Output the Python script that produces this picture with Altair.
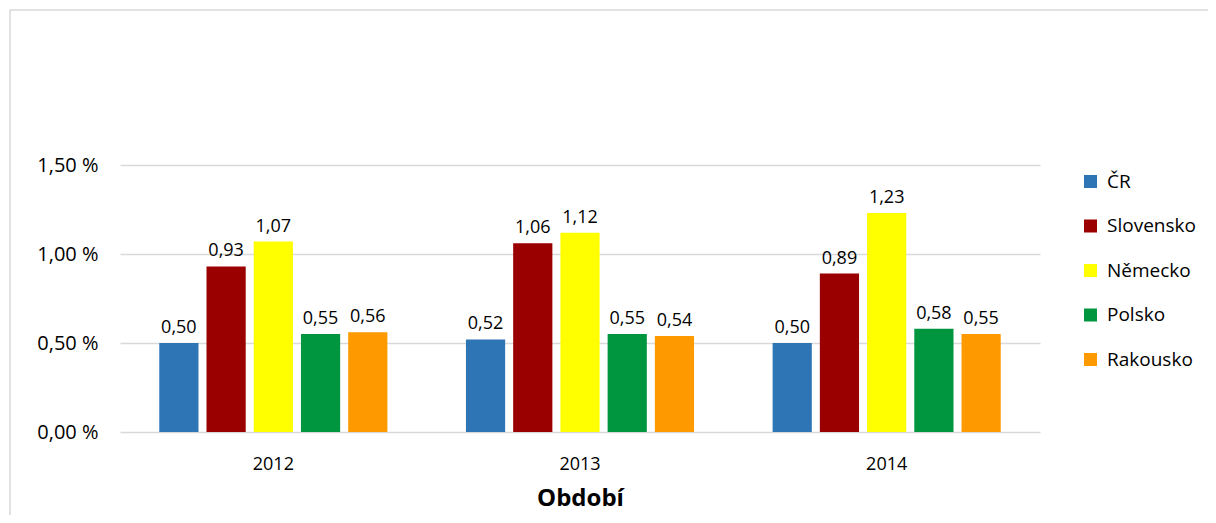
import altair as alt
import pandas as pd

years = ["2012", "2013", "2014"]
countries = ["ČR", "Slovensko", "Německo", "Polsko", "Rakousko"]
colors = ["#2E75B6", "#9B0000", "#FFFF00", "#00963F", "#FF9900"]
values = {
    "ČR": [0.50, 0.52, 0.50],
    "Slovensko": [0.93, 1.06, 0.89],
    "Německo": [1.07, 1.12, 1.23],
    "Polsko": [0.55, 0.55, 0.58],
    "Rakousko": [0.56, 0.54, 0.55],
}

rows = []
for c in countries:
    for y, v in zip(years, values[c]):
        rows.append({"rok": y, "zeme": c, "v": v})
df = pd.DataFrame(rows)

FONT = "Open Sans"

x = alt.X("rok:N", title="Období", sort=years,
          scale=alt.Scale(paddingInner=0.23, paddingOuter=0.115),
          axis=alt.Axis(labelAngle=0, ticks=False, domain=False, labelPadding=23,
                        labelFontSize=18, titleFontSize=24, titleFontWeight="bold",
                        titlePadding=13, labelColor="#000", titleColor="#000"))
xo = alt.XOffset("zeme:N", sort=countries,
                 scale=alt.Scale(paddingInner=0.17, paddingOuter=0.085))
y = alt.Y("v:Q", title=None,
          scale=alt.Scale(domain=[0, 1.5], nice=False),
          axis=alt.Axis(values=[0, 0.5, 1.0, 1.5], ticks=False, domain=False,
                        labelExpr="replace(format(datum.value, '.2f'), '.', ',') + ' %'",
                        labelFontSize=20, labelPadding=22, labelColor="#000",
                        gridColor="#D9D9D9", gridWidth=1.5))

base = alt.Chart(df)

bars = base.mark_bar().encode(
    x=x, xOffset=xo, y=y,
    color=alt.Color("zeme:N", sort=countries, title=None,
                    scale=alt.Scale(domain=countries, range=colors),
                    legend=alt.Legend(orient="none", legendX=961, legendY=7,
                                      symbolType="square", symbolSize=169,
                                      symbolStrokeWidth=0,
                                      labelFontSize=19, labelColor="#000",
                                      rowPadding=24.5, labelOffset=7,
                                      symbolOpacity=1)),
)

labels = base.transform_calculate(
    lab="replace(format(datum.v, '.2f'), '.', ',')"
).mark_text(baseline="alphabetic", dy=-10, fontSize=18, color="#000", font=FONT).encode(
    x=x, xOffset=xo, y=y, text="lab:N"
)

border = alt.Chart(pd.DataFrame({"a": [0]})).mark_rect(
    fill=None, stroke="#D9D9D9", strokeWidth=1.5, clip=False
).encode(
    x=alt.value(-110), x2=alt.value(1300), y=alt.value(-155), y2=alt.value(600)
)

chart = alt.layer(border, bars, labels).properties(
    width=920, height=267,
    padding={"left": 112, "top": 157, "right": 168, "bottom": 83},
    autosize=alt.AutoSizeParams(type="none"),
).configure(font=FONT).configure_view(stroke=None)

chart.save("out.html", embed_options={"renderer": "svg", "actions": False})
